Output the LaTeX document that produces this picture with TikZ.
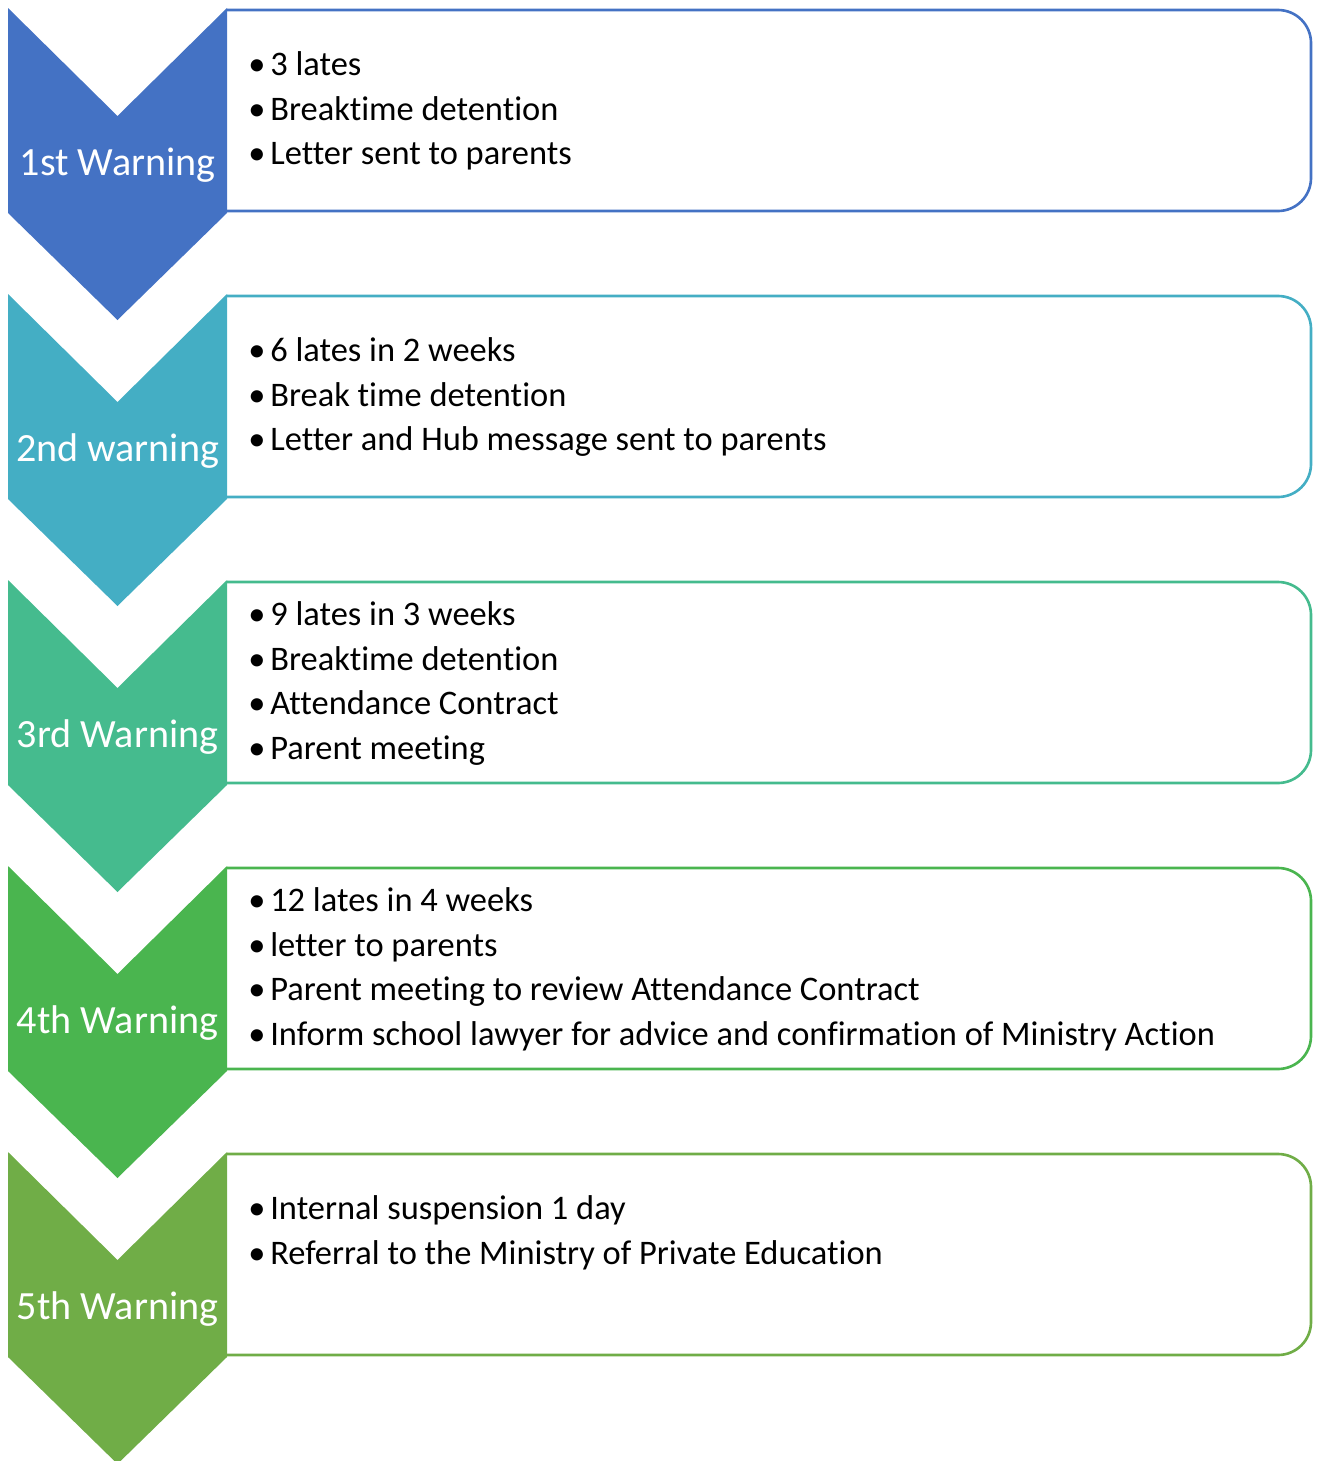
\documentclass[tikz,border=0pt]{standalone}
\usepackage{fontspec}
\setmainfont{Carlito}[Ligatures=NoCommon]
\usetikzlibrary{positioning}
\definecolor{warnA}{HTML}{4472C4}
\definecolor{warnB}{HTML}{44AEC4}
\definecolor{warnC}{HTML}{45BB8E}
\definecolor{warnD}{HTML}{4AB54F}
\definecolor{warnE}{HTML}{70AD47}
\tikzstyle{panel} = [line width=1.5pt, rounded corners=0.66cm]
\tikzstyle{warnlabel} = [text=white, inner sep=0pt, anchor=base,
                         font=\fontsize{22.8}{27}\selectfont]
\tikzstyle{warnitem} = [inner sep=0pt, anchor=base west,
                        font=\fontsize{19.6}{25}\selectfont]
% #1 name, #2 top, #3 colour, #4 label, #5 items, #6 first baseline
\newcommand{\drawWarning}[6]
{
    \draw [panel, #3] (227,#2+2) -- (1311,#2+2) -- (1311,#2+203) -- (227,#2+203);
    \fill [#3] (8,#2) -- (117.5,#2+108) -- (227,#2) -- (227,#2+205)
               -- (117.5,#2+312) -- (8,#2+205) -- cycle;
    \node (#1) [warnlabel] at (117.5,#2+167) {#4};
    \foreach \txt [count=\i] in {#5}
        \node (#1-\i) [warnitem] at (248,#6+\i*44.5-44.5)
            {\makebox[12.5pt][l]{\textbullet}\txt};
}

\begin{document}
\begin{tikzpicture}[x=0.02cm, y=-0.02cm]
\useasboundingbox (0,0) rectangle (1317,1461);

\drawWarning{w1}{8}{warnA}{1st Warning}
    {3 lates, Breaktime detention, Letter sent to parents}{75.5}
\drawWarning{w2}{294}{warnB}{2nd warning}
    {6 lates in 2 weeks, Break time detention,
     Letter and Hub message sent to parents}{361.5}
\drawWarning{w3}{580}{warnC}{3rd Warning}
    {9 lates in 3 weeks, Breaktime detention, Attendance Contract,
     Parent meeting}{625.5}
\drawWarning{w4}{866}{warnD}{4th Warning}
    {12 lates in 4 weeks, letter to parents,
     Parent meeting to review Attendance Contract,
     Inform school lawyer for advice and confirmation of Ministry Action}{911.5}
\drawWarning{w5}{1152}{warnE}{5th Warning}
    {Internal suspension 1 day,
     Referral to the Ministry of Private Education}{1219.5}

\end{tikzpicture}
\end{document}
